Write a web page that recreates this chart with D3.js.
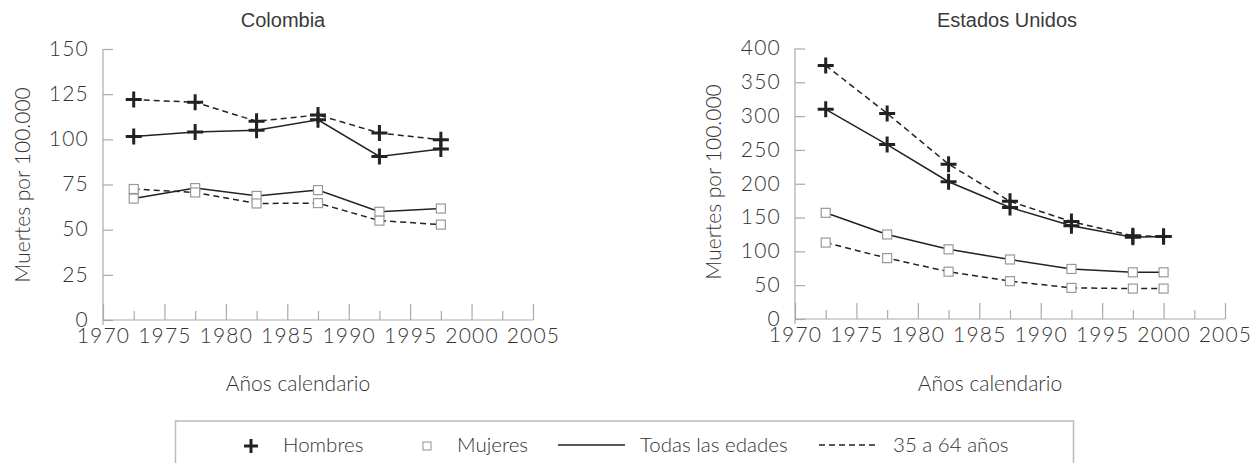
<!DOCTYPE html>
<html>
<head>
<meta charset="utf-8">
<script src="https://cdn.jsdelivr.net/npm/d3@7"></script>
<style>
  body { margin: 0; background: #fff; }
  text { font-family: Lato, "Open Sans", sans-serif; font-weight: 300; fill: #333; }
  text.title { font-family: "Liberation Sans", Arial, sans-serif; font-weight: 400; fill: #3a3a3a; }
</style>
</head>
<body>
<div class="chart"></div>
<script>
// Colombia
var colYears = [1972.5, 1977.5, 1982.5, 1987.5, 1992.5, 1997.5];
var colHombresTodas = [101.6, 104, 105, 110.8, 90.5, 94.6];
var colHombres3564 = [122, 120.5, 110, 113.5, 103.5, 99.8];
var colMujeresTodas = [67.2, 73, 68.7, 71.9, 59.9, 61.7];
var colMujeres3564 = [72.5, 70.6, 64.5, 64.7, 55, 52.8];

// Estados Unidos
var usYears = [1972.5, 1977.5, 1982.5, 1987.5, 1992.5, 1997.5, 2000];
var usHombresTodas = [310, 258, 203, 165, 138, 121, 122];
var usHombres3564 = [375, 304, 229, 174, 144, 123, 122];
var usMujeresTodas = [157, 125, 103, 88, 74, 69, 69];
var usMujeres3564 = [113, 90, 70, 56, 46, 45, 45];

var xTicks = [1970, 1975, 1980, 1985, 1990, 1995, 2000, 2005];
var xMinorTicks = [1972.5, 1977.5, 1982.5, 1987.5, 1992.5, 1997.5, 2002.5];
var colYTicks = [0, 25, 50, 75, 100, 125, 150];
var usYTicks = [0, 50, 100, 150, 200, 250, 300, 350, 400];

var legendItems = ["Hombres", "Mujeres", "Todas las edades", "35 a 64 años"];

var W = 1255, H = 463;
var axisColor = "#aaa";

var svg = d3.select(".chart")
    .append("svg")
    .attr("width", W)
    .attr("height", H);

function zip(xs, ys) {
    return xs.map(function (x, i) { return { year: x, value: ys[i] }; });
}

function styleTicks(sel) {
    sel.selectAll("text")
        .style("font-family", "Lato, sans-serif")
        .style("font-weight", 300)
        .style("font-size", "21px")
        .style("letter-spacing", "1.2px")
        .attr("fill", "#333");
}

function drawPanel(opt) {
    var x = d3.scaleLinear().domain([1970, 2005]).range([opt.left, opt.right]);
    var y = d3.scaleLinear().domain([0, opt.yMax]).range([opt.bottom, opt.top]);
    var g = svg.append("g");

    // title
    g.append("text")
        .attr("class", "title")
        .attr("x", opt.titleX)
        .attr("y", 27)
        .attr("text-anchor", "middle")
        .style("font-size", "20px")
        .text(opt.title);

    // y axis
    var yAxis = g.append("g")
        .attr("transform", "translate(" + opt.left + ",0)")
        .call(d3.axisLeft(y).tickValues(opt.yTicks).tickSizeInner(-10).tickSizeOuter(0).tickPadding(14));
    yAxis.select(".domain").remove();
    yAxis.selectAll("line").attr("stroke", axisColor).attr("stroke-width", 1.2);
    styleTicks(yAxis);
    yAxis.selectAll("text").attr("dy", "0.3em");

    // x axis, major ticks
    var xAxis = g.append("g")
        .attr("transform", "translate(0," + opt.bottom + ")")
        .call(d3.axisBottom(x).tickValues(xTicks).tickFormat(d3.format("d")).tickSizeInner(-16).tickSizeOuter(0).tickPadding(8));
    xAxis.select(".domain").remove();
    xAxis.selectAll("line").attr("stroke", axisColor).attr("stroke-width", 1.2);
    styleTicks(xAxis);

    // minor ticks
    var xMinor = g.append("g")
        .attr("transform", "translate(0," + opt.bottom + ")")
        .call(d3.axisBottom(x).tickValues(xMinorTicks).tickFormat("").tickSizeInner(-9).tickSizeOuter(0));
    xMinor.select(".domain").remove();
    xMinor.selectAll("line").attr("stroke", axisColor).attr("stroke-width", 1.2);

    // axis lines
    g.append("line")
        .attr("x1", opt.left).attr("x2", opt.left)
        .attr("y1", y(opt.yMax)).attr("y2", opt.bottom + 5)
        .attr("stroke", axisColor).attr("stroke-width", 1.2);
    g.append("line")
        .attr("x1", opt.left).attr("x2", opt.right)
        .attr("y1", opt.bottom).attr("y2", opt.bottom)
        .attr("stroke", axisColor).attr("stroke-width", 1.2);

    // axis titles
    g.append("text")
        .attr("transform", "translate(" + opt.yTitleX + "," + opt.yTitleY + ") rotate(-90)")
        .attr("text-anchor", "middle")
        .style("font-size", "21px")
        .text("Muertes por 100.000");
    g.append("text")
        .attr("x", opt.xTitleX)
        .attr("y", 391)
        .attr("text-anchor", "middle")
        .style("font-size", "21px")
        .text("Años calendario");

    var line = d3.line()
        .x(function (d) { return x(d.year); })
        .y(function (d) { return y(d.value); });

    var series = [
        { values: zip(opt.years, opt.hombresTodas), dash: null, marker: "plus" },
        { values: zip(opt.years, opt.hombres3564), dash: "6,4", marker: "plus" },
        { values: zip(opt.years, opt.mujeresTodas), dash: null, marker: "square" },
        { values: zip(opt.years, opt.mujeres3564), dash: "6,4", marker: "square" }
    ];

    series.forEach(function (s) {
        g.append("path")
            .datum(s.values)
            .attr("d", line)
            .attr("fill", "none")
            .attr("stroke", "#222")
            .attr("stroke-width", 1.5)
            .attr("stroke-dasharray", s.dash);
    });

    series.forEach(function (s) {
        if (s.marker === "plus") {
            g.selectAll(null)
                .data(s.values)
                .enter()
                .append("path")
                .attr("transform", function (d) { return "translate(" + x(d.year) + "," + y(d.value) + ")"; })
                .attr("d", "M-8,0H8M0,-8V8")
                .attr("stroke", "#222")
                .attr("stroke-width", 3);
        } else {
            g.selectAll(null)
                .data(s.values)
                .enter()
                .append("rect")
                .attr("x", function (d) { return x(d.year) - 4.5; })
                .attr("y", function (d) { return y(d.value) - 4.5; })
                .attr("width", 9)
                .attr("height", 9)
                .attr("fill", "#fff")
                .attr("stroke", "#999")
                .attr("stroke-width", 1.2);
        }
    });
}

drawPanel({
    title: "Colombia", titleX: 283,
    left: 103, right: 533, top: 49, bottom: 320, yMax: 150, yTicks: colYTicks,
    yTitleX: 30, yTitleY: 185, xTitleX: 298,
    years: colYears, hombresTodas: colHombresTodas, hombres3564: colHombres3564,
    mujeresTodas: colMujeresTodas, mujeres3564: colMujeres3564
});

drawPanel({
    title: "Estados Unidos", titleX: 1007,
    left: 795, right: 1225, top: 48.5, bottom: 319, yMax: 400, yTicks: usYTicks,
    yTitleX: 721, yTitleY: 182, xTitleX: 990,
    years: usYears, hombresTodas: usHombresTodas, hombres3564: usHombres3564,
    mujeresTodas: usMujeresTodas, mujeres3564: usMujeres3564
});

// legend
var legend = svg.append("g");
legend.append("rect")
    .attr("x", 175.5).attr("y", 421)
    .attr("width", 898).attr("height", 70)
    .attr("fill", "none")
    .attr("stroke", "#bbb")
    .attr("stroke-width", 1.5);

var ly = 446;
legend.append("path")
    .attr("d", "M244,"+ ly + "H258M251," + (ly - 7) + "V" + (ly + 7))
    .attr("stroke", "#222").attr("stroke-width", 3);
legend.append("rect")
    .attr("x", 423).attr("y", ly - 4)
    .attr("width", 8).attr("height", 8)
    .attr("fill", "#fff").attr("stroke", "#999").attr("stroke-width", 1.1);
legend.append("line")
    .attr("x1", 558).attr("x2", 625).attr("y1", ly - 1).attr("y2", ly - 1)
    .attr("stroke", "#222").attr("stroke-width", 1.5);
legend.append("line")
    .attr("x1", 819).attr("x2", 877).attr("y1", ly - 1).attr("y2", ly - 1)
    .attr("stroke", "#222").attr("stroke-width", 1.5)
    .attr("stroke-dasharray", "6,4");

var legendX = [283, 457, 640, 893];
legend.selectAll(null)
    .data(legendItems)
    .enter()
    .append("text")
    .attr("x", function (d, i) { return legendX[i]; })
    .attr("y", ly + 6)
    .style("font-size", "20.5px")
    .text(function (d) { return d; });
</script>
</body>
</html>
